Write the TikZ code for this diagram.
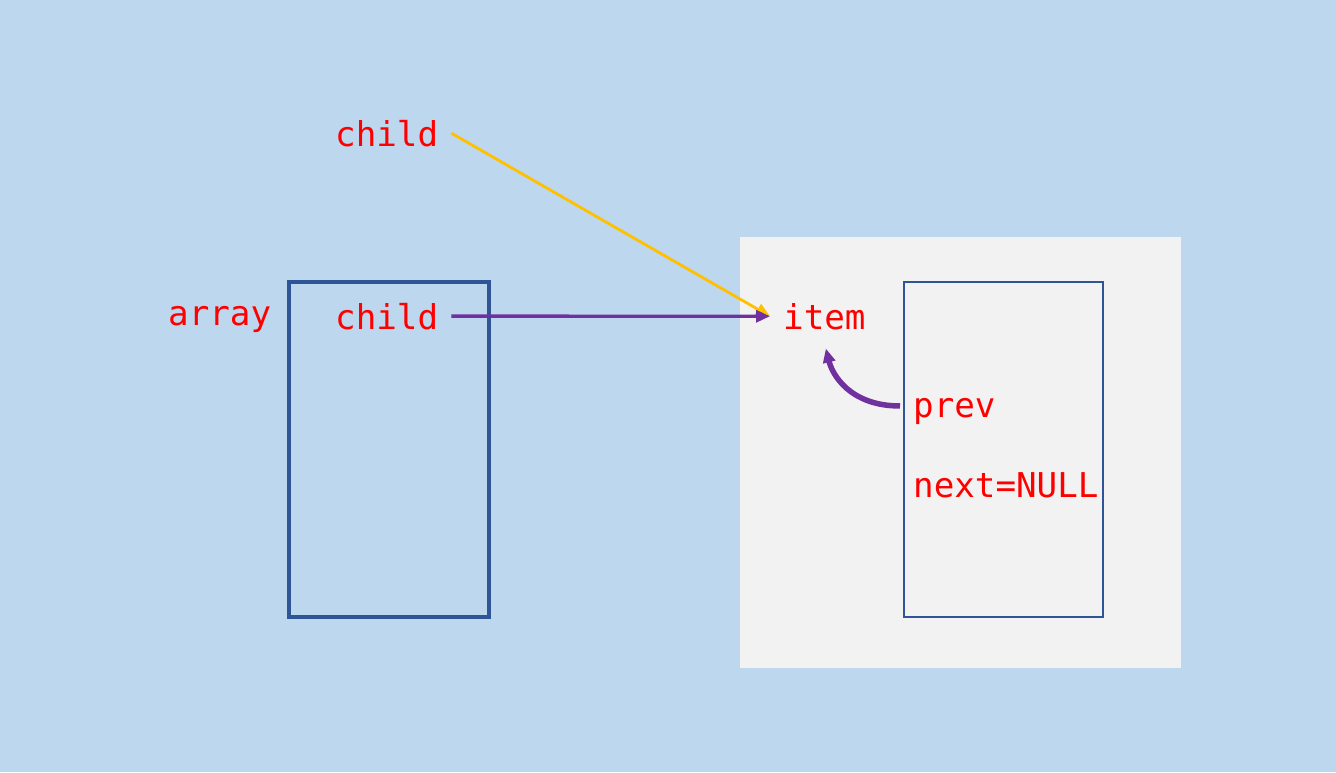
\documentclass[tikz,border=0pt]{standalone}
\usepackage{fontspec}
\setmonofont{DejaVu Sans Mono}
\usetikzlibrary{positioning, arrows.meta}

\definecolor{slidebg}{HTML}{BDD7EE}
\definecolor{itembg}{HTML}{F2F2F2}
\definecolor{boxblue}{HTML}{2F5597}
\definecolor{ptrpurple}{HTML}{7030A0}
\definecolor{ptryellow}{HTML}{FFC000}

\newcommand{\labelfont}{\ttfamily\fontsize{34.2}{40}\selectfont}

\begin{document}
\begin{tikzpicture}[x=1pt, y=-1pt,
      lbl/.style={font=\labelfont, text=red, inner sep=13pt, anchor=base west},
      ptr/.style={-{Triangle[length=14pt, width=12pt]}, line width=3.4pt, draw=ptrpurple}]
    \useasboundingbox (0,0) rectangle (1336,772);
    \fill[slidebg] (0,0) rectangle (1336,772);
    % the list item
    \fill[itembg] (740,237) rectangle (1181,668);
    \draw[boxblue, line width=2pt] (904,282) rectangle (1103,617);
    % the array
    \draw[boxblue, line width=4.2pt] (289,282) rectangle (489,617);
    \node[lbl] (array) at (155,325) {array};
    \node[lbl] (child) at (322,146) {child};
    \node[lbl] (slot) at (322,329) {child};
    \node[lbl] (item) at (770,329) {item};
    \node[lbl] (prev) at (900,417) {prev};
    \node[lbl] (next) at (900,497) {next=NULL};
    % pointers
    \draw[ptr, draw=ptryellow, line width=2.8pt] (child.east) -- (item.west);
    \draw[ptr] (slot.east) -- (item.west);
    \draw[ptr, line width=5.5pt, shorten >=6pt] ([yshift=5pt]prev.west) .. controls +(-50,0) and +(8,32) .. (item.south);
\end{tikzpicture}
\end{document}
